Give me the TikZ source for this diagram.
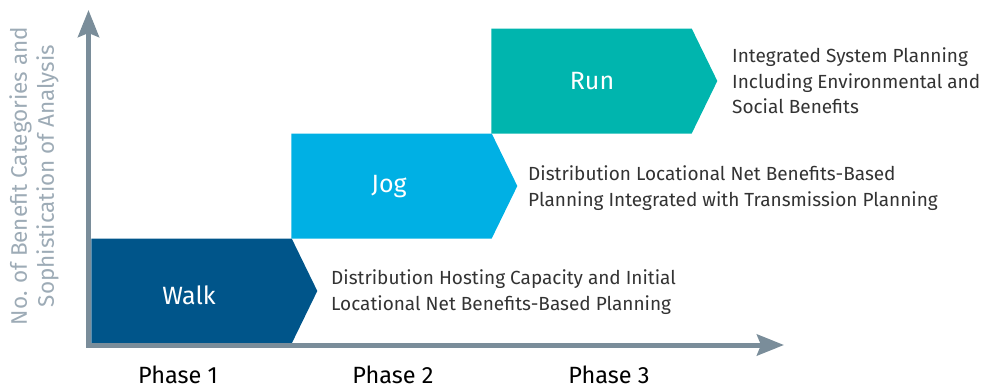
\documentclass[tikz,border=0pt]{standalone}
\usepackage{fontspec}
\setmainfont{Fira Sans}
\usetikzlibrary{positioning,shapes.symbols,arrows.meta}

\definecolor{axisgray}{HTML}{7A8D9A}
\definecolor{labelgray}{HTML}{9DABB6}
\definecolor{notegray}{HTML}{333333}
\definecolor{walkblue}{HTML}{00558A}
\definecolor{jogblue}{HTML}{00B0E4}
\definecolor{runteal}{HTML}{00B5AE}

\tikzset{
    stepshape/.style = {signal, signal to = east, signal pointer angle = 128,
                        minimum width = 226pt, minimum height = 105pt,
                        inner sep = 0pt, draw = none},
    steptext/.style  = {text = white, font = \fontsize{25}{30}\selectfont},
    note/.style      = {anchor = west, align = left, inner sep = 0pt,
                        text = notegray, font = \fontsize{19}{25.5}\selectfont},
    phasename/.style = {font = \fontsize{23.5}{28}\selectfont},
    axis/.style      = {axisgray, line width = 5pt,
                        -{Stealth[length = 27pt, width = 21pt, inset = 4pt]}}
}

\begin{document}
\begin{tikzpicture}[x = 1pt, y = -1pt]
    \useasboundingbox (0,0) rectangle (982,388);

    % the three steps
    \node [stepshape, fill = walkblue] (walk) at (191.5,291) {};
    \node [stepshape, fill = jogblue]  (jog)  at (391.5,186) {};
    \node [stepshape, fill = runteal]  (run)  at (591.5,81)  {};

    \node [steptext] (walklabel) at (189,295) {Walk};
    \node [steptext] (joglabel)  at (389,187) {Jog};
    \node [steptext] (runlabel)  at (592,81)  {Run};

    % axes
    \coordinate (origin) at (88.5,345);
    \coordinate (ytip)   at (88.5,10);
    \coordinate (xtip)   at (784,345);
    \draw [axis] ([yshift = -2.5pt]origin) -- (ytip);
    \draw [axis] ([xshift = -2.5pt]origin) -- (xtip);

    % descriptions
    \node [note] (walknote) at (331,292)
        {Distribution Hosting Capacity and Initial\\Locational Net Benefits-Based Planning};
    \node [note] (jognote) at (528,188)
        {Distribution Locational Net Benefits-Based\\Planning Integrated with Transmission Planning};
    \node [note] (runnote) at (732,81)
        {Integrated System Planning\\Including Environmental and\\Social Benefits};

    % phases
    \node [phasename] (phase1) at (178,375) {Phase 1};
    \node [phasename] (phase2) at (393,375) {Phase 2};
    \node [phasename] (phase3) at (609,375) {Phase 3};

    \node [rotate = 90, align = center, text = labelgray,
           font = \fontsize{22.5}{27}\selectfont] (yname) at (34,176)
        {No. of Benefit Categories and\\Sophistication of Analysis};
\end{tikzpicture}
\end{document}
